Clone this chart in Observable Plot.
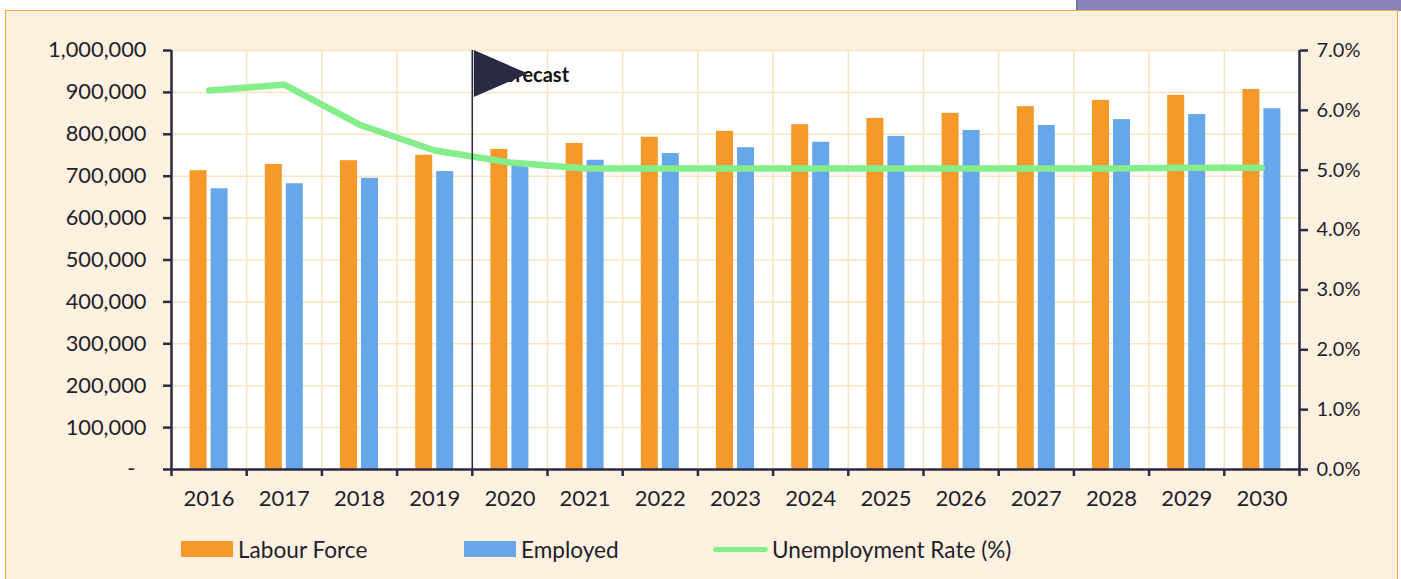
<!DOCTYPE html>
<html><head><meta charset="utf-8">
<script src="https://cdn.jsdelivr.net/npm/d3@7"></script>
<script src="https://cdn.jsdelivr.net/npm/@observablehq/plot@0.6"></script>
<style>
html,body{margin:0;padding:0;background:#fff;width:1401px;height:579px;overflow:hidden;font-family:Lato,sans-serif;color:#1e1e2c}
#purple{position:absolute;left:1076px;top:0;width:325px;height:11px;background:#8a84bc;box-shadow:inset 2px 0 0 #77779a}
#panel{position:absolute;left:5px;top:10px;width:1391px;height:569px;background:#fef1e0;border:solid #f4a93b;border-width:1.5px 1.5px 0 1.5px;box-sizing:content-box}
#chart{position:absolute;left:0;top:0}
#legend{position:absolute;left:0;top:525px;width:1401px;height:54px;font-size:22.6px}
#legend span{position:absolute;top:12px;line-height:26px;white-space:nowrap}
#legend i{position:absolute;display:block}
</style></head><body>
<div id="purple"></div><div id="panel"></div><div id="chart"></div>
<div id="legend"></div>
<script>
const years = ["2016","2017","2018","2019","2020","2021","2022","2023","2024","2025","2026","2027","2028","2029","2030"];
const labourForce = [713000,728000,737000,750000,764000,778000,793000,807000,823000,838000,850000,866000,881000,893000,907000];
const employed = [670000,682000,695000,711000,725000,738000,754000,768000,781000,795000,809000,821000,835000,847000,861000];
const unemploymentRate = [6.33,6.43,5.76,5.33,5.13,5.03,5.03,5.03,5.03,5.03,5.03,5.03,5.03,5.04,5.04];
const leftTicks = [0,100000,200000,300000,400000,500000,600000,700000,800000,900000,1000000];
const rightTicks = [0,1,2,3,4,5,6,7];
const seriesNames = ["Labour Force","Employed","Unemployment Rate (%)"];
const forecastLabel = "Forecast";

const ink="#2a2a44", grid="#fde3bf", orange="#f5992a", blue="#66a6e9", green="#84ee8b", text="#1e1e2c";
const rateToY = r => r/7*1e6;
const W=1401,H=525,mL=171,mR=102,mT=50,mB=56;
const step=(W-mL-mR)/years.length;
const idx=years.map((y,i)=>i);

const flag = {draw(c){c.moveTo(0,-23.5);c.lineTo(0,23.5);c.lineTo(54,0);c.closePath();}};

const plot = Plot.plot({
  width:W,height:H,marginLeft:mL,marginRight:mR,marginTop:mT,marginBottom:mB,
  style:{background:"transparent",fontFamily:"Lato,sans-serif",fontSize:"20px",color:text},
  x:{type:"band",domain:years,padding:0,round:false,label:null},
  y:{type:"linear",domain:[0,1e6],label:null},
  marks:[
    Plot.frame({fill:"white",stroke:null}),
    Plot.ruleY(leftTicks,{y:d=>d,stroke:grid,strokeWidth:1.5}),
    Plot.ruleX(years,{x:d=>d,dx:-step/2,stroke:grid,strokeWidth:1.5}),
    Plot.text([forecastLabel],{x:()=>"2020",y:()=>940000,text:d=>d,dx:-step/2+21,textAnchor:"start",fontWeight:"bold",fontSize:20,fill:"#111"}),
    Plot.barY(idx,{x:i=>years[i],y:i=>labourForce[i],fill:orange,dx:-10.5,insetLeft:29.1,insetRight:29.1}),
    Plot.barY(idx,{x:i=>years[i],y:i=>employed[i],fill:blue,dx:10.5,insetLeft:29.1,insetRight:29.1}),
    Plot.lineY(idx,{x:i=>years[i],y:i=>rateToY(unemploymentRate[i]),stroke:green,strokeWidth:6.5,strokeLinecap:"round",strokeLinejoin:"round"}),
    Plot.ruleX(["2020"],{x:d=>d,dx:-step/2,stroke:ink,strokeWidth:1.5}),
    Plot.dot(["2020"],{x:d=>d,y:()=>945000,dx:-step/2+1.5,symbol:flag,r:5,fill:ink,stroke:"none"}),
    Plot.ruleY([0],{y:d=>d,stroke:ink,strokeWidth:2.5}),
    Plot.axisY(leftTicks,{anchor:"left",tickSize:8,tickPadding:17,stroke:ink,strokeWidth:2.5,fill:text,label:null,
      tickFormat:d=>d===0?"-\u00a0\u00a0":d3.format(",")(d),fontSize:21.8}),
    Plot.axisY(rightTicks.map(rateToY),{anchor:"right",tickSize:8,tickPadding:9,stroke:ink,strokeWidth:2.5,fill:text,label:null,
      tickFormat:d=>(d/1e6*7).toFixed(1)+"%",fontSize:20}),
    Plot.ruleX(["2016"],{x:d=>d,dx:-step/2,stroke:ink,strokeWidth:2.5}),
    Plot.ruleX(["2030"],{x:d=>d,dx:step/2,stroke:ink,strokeWidth:2.5}),
    Plot.axisX(years,{anchor:"bottom",dx:-step/2,tickSize:7,stroke:ink,strokeWidth:2.5,tickFormat:()=>"",label:null}),
    Plot.axisX(["2030"],{anchor:"bottom",dx:step/2,tickSize:7,stroke:ink,strokeWidth:2.5,tickFormat:()=>"",label:null}),
    Plot.axisX(years,{anchor:"bottom",tickSize:0,tickPadding:21,fill:text,label:null,fontSize:22})
  ]
});
document.getElementById("chart").append(plot);

const lg=document.getElementById("legend");
const sw=[[181,52,16,orange,238],[464,52,16,blue,521],[713,55,5,green,772]];
sw.forEach((s,i)=>{
  const e=document.createElement("i");
  e.style.cssText=`left:${s[0]}px;width:${s[1]}px;height:${s[2]}px;top:${24-s[2]/2}px;background:${s[3]};${i==2?"border-radius:3px":""}`;
  lg.append(e);
  const t=document.createElement("span");t.textContent=seriesNames[i];t.style.left=s[4]+"px";lg.append(t);
});
</script></body></html>
